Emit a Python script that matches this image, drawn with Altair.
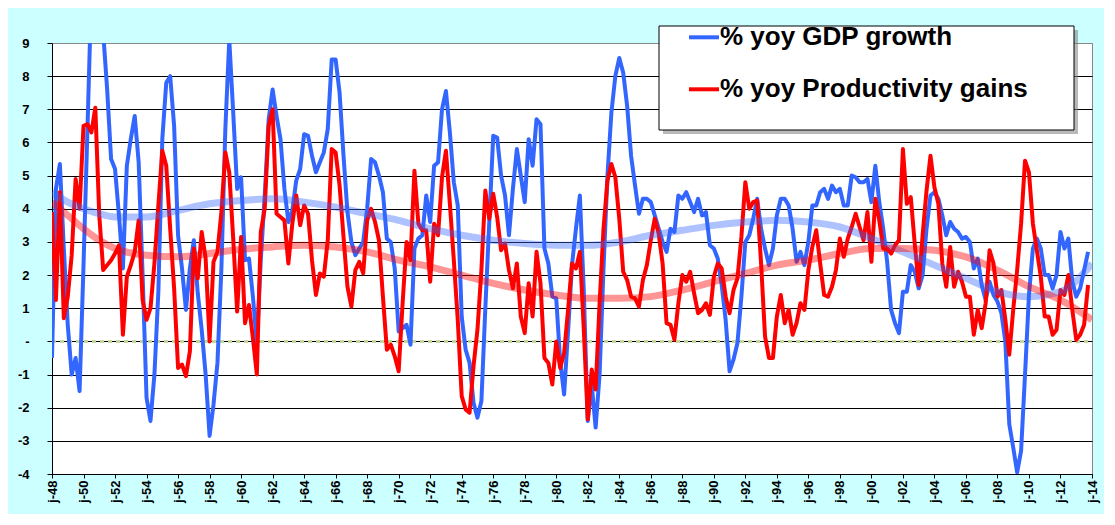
import altair as alt
import pandas as pd

# ---------------- data ----------------
start_year = 1948  # quarterly series, first quarter of 1948

gdp_growth = [
    -0.5, 4.6, 5.35, 2.8,      # 1948
    0.5, -1.0, -0.5, -1.5,     # 1949
    2.3, 6.4, 10.6, 11.8,      # 1950
    11.0, 9.3, 7.6, 5.5,       # 1951
    5.2, 3.8, 2.2, 5.3,        # 1952
    6.1, 6.8, 5.4, 2.0,        # 1953
    -1.7, -2.4, -1.0, 1.5,     # 1954
    6.1, 7.8, 8.0, 6.5,        # 1955
    3.2, 2.2, 0.95, 2.2,       # 1956
    3.05, 1.45, 0.35, -1.0,    # 1957
    -2.85, -1.9, -0.65, 2.2,   # 1958
    6.4, 9.1, 6.9, 4.6,        # 1959
    4.95, 2.45, 2.5, 1.35,     # 1960
    -0.05, 2.45, 4.4, 6.7,     # 1961
    7.6, 6.8, 6.1, 4.6,        # 1962
    3.6, 3.95, 4.85, 5.2,      # 1963
    6.25, 6.2, 5.6, 5.1,       # 1964
    5.4, 5.7, 6.4, 8.5,        # 1965
    8.5, 7.5, 5.6, 3.9,        # 1966
    3.0, 2.6, 2.8, 3.0,        # 1967
    4.0, 5.5, 5.4, 5.0,        # 1968
    4.5, 3.1, 3.0, 2.2,        # 1969
    0.3, 0.4, 0.5, -0.1,       # 1970
    2.8, 3.1, 3.2, 4.4,        # 1971
    3.6, 5.3, 5.4, 7.0,        # 1972
    7.55, 6.3, 4.8, 4.1,       # 1973
    0.75, -0.25, -0.65, -1.85, # 1974
    -2.3, -1.8, 1.0, 3.6,      # 1975
    6.2, 6.15, 5.0, 4.4,       # 1976
    3.2, 4.6, 5.8, 5.0,        # 1977
    4.2, 6.1, 5.3, 6.7,        # 1978
    6.55, 2.8, 2.35, 1.35,     # 1979
    1.3, -0.6, -1.6, 0.3,      # 1980
    2.3, 3.4, 4.4, 1.5,        # 1981
    -2.4, -1.3, -2.6, -1.0,    # 1982
    2.2, 5.0, 6.9, 8.0,        # 1983
    8.55, 8.1, 7.1, 5.6,       # 1984
    4.7, 3.85, 4.3, 4.3,       # 1985
    4.2, 3.8, 3.4, 3.0,        # 1986
    2.7, 3.4, 3.3, 4.4,        # 1987
    4.3, 4.5, 4.2, 3.9,        # 1988
    4.3, 3.8, 3.9, 2.9,        # 1989
    2.8, 2.5, 1.7, 0.65,       # 1990
    -0.9, -0.55, -0.05, 1.35,  # 1991
    3.0, 3.2, 3.7, 4.3,        # 1992
    3.4, 2.8, 2.3, 2.8,        # 1993
    3.8, 4.3, 4.3, 4.1,        # 1994
    3.4, 2.4, 2.7, 2.3,        # 1995
    3.0, 4.1, 4.1, 4.5,        # 1996
    4.6, 4.3, 4.7, 4.5,        # 1997
    4.6, 4.1, 4.1, 5.0,        # 1998
    4.95, 4.8, 4.8, 4.9,       # 1999
    4.2, 5.3, 4.2, 3.4,        # 2000
    2.4, 0.95, 0.55, 0.25,     # 2001
    1.5, 1.5, 2.3, 2.1,        # 2002
    1.6, 2.0, 3.4, 4.4,        # 2003
    4.5, 4.3, 3.8, 3.2,        # 2004
    3.6, 3.4, 3.3, 3.1,        # 2005
    3.15, 3.0, 2.2, 2.5,       # 2006
    1.7, 1.25, 1.8, 1.4,       # 2007
    1.2, 0.85, 0.0, -2.5,      # 2008
    -3.2, -3.95, -3.3, -1.0,   # 2009
    1.4, 2.8, 3.1, 2.8,        # 2010
    2.0, 2.0, 1.6, 2.0,        # 2011
    3.3, 2.8, 3.1, 1.8,        # 2012
    1.35, 1.6, 2.15, 2.7,      # 2013
]

productivity_gains = [
    3.9, 1.25, 4.5, 0.7,       # 1948
    1.35, 2.6, 4.9, 4.0,       # 1949
    6.5, 6.55, 6.3, 7.05,      # 1950
    3.8, 2.15, 2.3, 2.45,      # 1951
    2.65, 2.9, 0.2, 1.95,      # 1952
    2.3, 2.7, 3.65, 1.25,      # 1953
    0.65, 1.0, 2.35, 4.1,      # 1954
    5.75, 5.3, 3.4, 1.6,       # 1955
    -0.8, -0.7, -1.05, -0.3,   # 1956
    2.8, 1.9, 3.3, 2.5,        # 1957
    0.0, 2.4, 2.7, 3.9,        # 1958
    5.7, 5.1, 3.1, 0.9,        # 1959
    3.15, 0.55, 1.1, 0.1,      # 1960
    -1.0, 3.3, 4.0, 6.5,       # 1961
    7.0, 3.85, 3.75, 3.65,     # 1962
    2.35, 3.55, 4.4, 3.5,      # 1963
    4.1, 3.85, 2.45, 1.4,      # 1964
    2.05, 1.95, 3.05, 5.8,     # 1965
    5.7, 4.7, 3.15, 1.65,      # 1966
    1.05, 2.15, 2.4, 2.05,     # 1967
    3.65, 4.0, 3.6, 3.05,      # 1968
    1.35, -0.25, -0.1, -0.45,  # 1969
    -0.9, 1.15, 3.0, 2.45,     # 1970
    5.15, 3.55, 3.35, 3.35,    # 1971
    1.8, 3.55, 3.2, 4.95,      # 1972
    5.75, 4.15, 2.45, 0.65,    # 1973
    -1.65, -2.05, -2.15, -0.75,# 1974
    0.35, 2.15, 4.55, 3.7,     # 1975
    4.45, 3.75, 2.75, 2.95,    # 1976
    2.15, 1.6, 2.35, 0.75,     # 1977
    0.25, 1.75, 0.75, 2.7,     # 1978
    1.75, -0.5, -0.65, -1.3,   # 1979
    0.0, -0.8, -0.35, 0.95,    # 1980
    2.35, 2.2, 2.7, 0.35,      # 1981
    -2.35, -0.85, -1.45, 1.15, # 1982
    3.4, 4.85, 5.35, 4.95,     # 1983
    3.7, 2.1, 1.85, 1.35,      # 1984
    1.3, 1.05, 1.85, 2.3,      # 1985
    3.05, 3.7, 3.25, 2.35,     # 1986
    0.55, 0.5, 0.05, 1.15,     # 1987
    2.0, 1.8, 2.1, 1.45,       # 1988
    0.85, 0.95, 1.15, 0.8,     # 1989
    1.95, 2.35, 2.2, 1.35,     # 1990
    0.85, 1.55, 1.9, 3.15,     # 1991
    4.8, 4.0, 4.2, 4.25,       # 1992
    2.35, 0.15, -0.5, -0.5,    # 1993
    0.75, 1.4, 0.55, 0.95,     # 1994
    0.2, 0.55, 1.15, 0.95,     # 1995
    2.15, 2.85, 3.35, 2.35,    # 1996
    1.4, 1.35, 1.65, 2.15,     # 1997
    3.1, 2.55, 3.1, 3.45,      # 1998
    3.85, 3.45, 3.05, 3.9,     # 1999
    2.4, 4.3, 3.65, 2.8,       # 2000
    2.8, 2.65, 2.9, 3.05,      # 2001
    5.8, 4.15, 4.35, 2.95,     # 2002
    1.7, 3.2, 4.55, 5.6,       # 2003
    4.65, 4.15, 2.35, 1.65,    # 2004
    2.85, 1.65, 2.1, 1.8,      # 2005
    1.35, 1.35, 0.2, 0.95,     # 2006
    0.4, 1.15, 2.75, 2.35,     # 2007
    1.35, 1.55, 0.65, -0.4,    # 2008
    0.95, 2.15, 3.55, 5.45,    # 2009
    5.1, 3.55, 2.75, 1.95,     # 2010
    0.75, 0.75, 0.2, 0.35,     # 2011
    1.55, 1.4, 2.0, 0.95,      # 2012
    0.05, 0.2, 0.5, 1.7,       # 2013
]

trend_gdp_years = [1948, 1949, 1950, 1951, 1952, 1954, 1956, 1958, 1960, 1962, 1964,
                   1966, 1968, 1970, 1972, 1974, 1976, 1978, 1980, 1982, 1984, 1986,
                   1988, 1990, 1992, 1994, 1996, 1998, 2000, 2002, 2004, 2006, 2008,
                   2010, 2012, 2014]
trend_gdp = [4.5, 4.2, 4.0, 3.85, 3.75, 3.75, 3.95, 4.15, 4.25, 4.3, 4.2,
             4.05, 3.85, 3.65, 3.4, 3.2, 3.05, 2.95, 2.9, 2.9, 3.0, 3.2,
             3.35, 3.5, 3.6, 3.65, 3.6, 3.45, 3.1, 2.7, 2.3, 1.9, 1.5,
             1.35, 1.5, 2.35]

trend_prod_years = [1948, 1949, 1950, 1951, 1952, 1954, 1956, 1958, 1960, 1962, 1964,
                    1966, 1968, 1970, 1972, 1974, 1976, 1978, 1980, 1982, 1984, 1986,
                    1988, 1990, 1992, 1994, 1996, 1998, 2000, 2002, 2004, 2006, 2008,
                    2010, 2012, 2014]
trend_prod = [4.2, 3.8, 3.4, 3.05, 2.8, 2.6, 2.55, 2.65, 2.78, 2.85, 2.9,
              2.85, 2.7, 2.45, 2.25, 2.0, 1.75, 1.55, 1.4, 1.3, 1.3, 1.35,
              1.55, 1.8, 2.05, 2.3, 2.45, 2.65, 2.8, 2.8, 2.75, 2.55, 2.15,
              1.65, 1.25, 0.65]

x_tick_years = list(range(1948, 2015, 2))
y_ticks = list(range(-4, 10))
legend_labels = ["% yoy GDP growth", "% yoy Productivity gains"]

# ---------------- styling ----------------
BLUE = "#3366FF"
RED = "#FF0000"
FONT = "Liberation Sans"

quarters = [start_year + i / 4 for i in range(len(gdp_growth))]
df_gdp = pd.DataFrame({"t": quarters, "v": gdp_growth})
df_prod = pd.DataFrame({"t": quarters[:len(productivity_gains)], "v": productivity_gains})
df_tg = pd.DataFrame({"t": trend_gdp_years, "v": trend_gdp})
df_tp = pd.DataFrame({"t": trend_prod_years, "v": trend_prod})
df_zero = pd.DataFrame({"t": [1948, 2014], "v": [0, 0]})
df_one = pd.DataFrame({"k": [0]})

x_axis = alt.Axis(
    values=x_tick_years,
    labelExpr="'j-' + substring(toString(datum.value), 2, 4)",
    labelAngle=270, labelAlign="right", labelBaseline="middle",
    labelFont=FONT, labelFontSize=13, labelFontWeight="bold", labelColor="black",
    labelFlush=False, labelOverlap=False, labelPadding=2,
    tickSize=4, tickColor="black", domainColor="black", grid=False, title=None,
)
y_axis = alt.Axis(
    values=y_ticks,
    labelExpr="datum.value == 0 ? '-' : toString(datum.value)",
    labelFont=FONT, labelFontSize=13, labelFontWeight="bold", labelColor="black",
    labelOverlap=False, labelFlush=False,
    labelPadding=18, tickSize=5, tickColor="black", domainColor="black",
    grid=True, gridColor={"condition": {"test": "datum.value == 9", "value": "#888888"}, "value": "black"},
    gridWidth=1, title=None,
)
x_scale = alt.Scale(domain=[1948, 2014], nice=False, zero=False)
y_scale = alt.Scale(domain=[-4, 9], nice=False, zero=False)


def xy():
    return dict(
        x=alt.X("t:Q", scale=x_scale, axis=x_axis),
        y=alt.Y("v:Q", scale=y_scale, axis=y_axis),
    )


zero_line = alt.Chart(df_zero).mark_line(color="#C4D79B", strokeWidth=3, strokeDash=[4, 4]).encode(**xy())
gdp_line = alt.Chart(df_gdp).mark_line(color=BLUE, strokeWidth=4, clip=True, strokeJoin="round").encode(**xy())
prod_line = alt.Chart(df_prod).mark_line(color=RED, strokeWidth=4, clip=True, strokeJoin="round").encode(**xy())
gdp_trend = alt.Chart(df_tg).mark_line(color=BLUE, strokeWidth=7, opacity=0.4, interpolate="monotone",
                                       clip=True).encode(**xy())
prod_trend = alt.Chart(df_tp).mark_line(color=RED, strokeWidth=7, opacity=0.42, interpolate="monotone",
                                        clip=True).encode(**xy())

# legend box (drawn in plot pixel space)
shadow = alt.Chart(df_one).mark_rect(fill="#7f7f7f", opacity=0.55).encode(
    x=alt.value(611), x2=alt.value(1026), y=alt.value(-13), y2=alt.value(91)
)
box = alt.Chart(df_one).mark_rect(fill="white", stroke="black", strokeWidth=1).encode(
    x=alt.value(607), x2=alt.value(1022), y=alt.value(-17), y2=alt.value(87)
)
legend_layers = [shadow, box]
for label, color, ly in zip(legend_labels, [BLUE, RED], [-5.7, 46.3]):
    df_lab = pd.DataFrame({"label": [label]})
    legend_layers.append(
        alt.Chart(df_lab).mark_rule(color=color, strokeWidth=4).encode(
            x=alt.value(637), x2=alt.value(667), y=alt.value(ly)
        )
    )
    legend_layers.append(
        alt.Chart(df_lab).mark_text(font=FONT, fontSize=26, fontWeight="bold", color="black",
                                    align="left", baseline="middle").encode(
            x=alt.value(668), y=alt.value(ly), text="label:N"
        )
    )

chart = alt.layer(
    zero_line, gdp_line, prod_line, gdp_trend, prod_trend, *legend_layers
).properties(
    width=1040, height=431,
    padding={"left": 44, "top": 35, "right": 12, "bottom": 40},
    autosize="none",
    background="#CCFFFF",
).configure_view(
    stroke="#888888", strokeWidth=1, fill="white"
)

chart.save("out.html", embed_options={"renderer": "svg", "actions": False})
